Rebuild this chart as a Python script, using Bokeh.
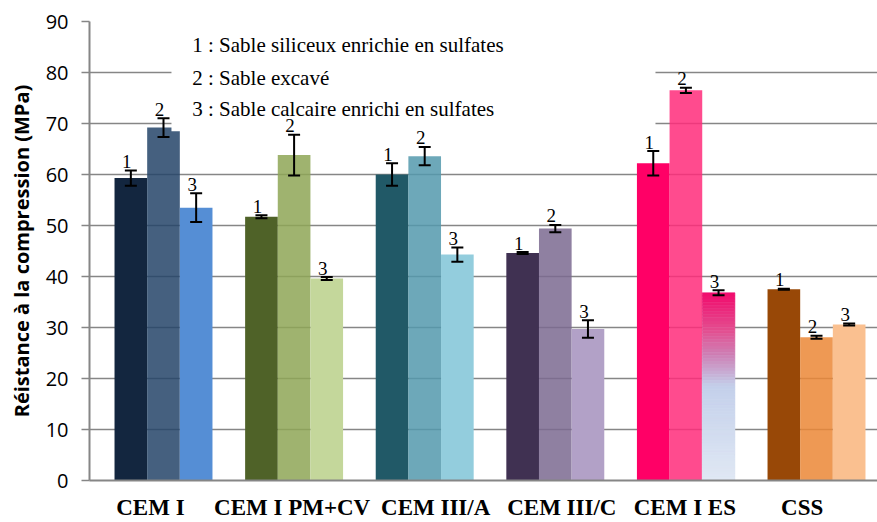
import numpy as np
from bokeh.plotting import figure
from bokeh.models import (ColumnDataSource, Whisker, TeeHead, FixedTicker, Label,
                          Range1d)
from bokeh.core.properties import value
from bokeh.embed import file_html
from bokeh.resources import INLINE

# ---------------- data ----------------
categories = ["CEM I", "CEM I PM+CV", "CEM III/A", "CEM III/C", "CEM I ES", "CSS"]
sand_ids = ["1", "2", "3"]
legend_lines = ["1 : Sable siliceux enrichie en sulfates",
                "2 : Sable excavé",
                "3 : Sable calcaire enrichi en sulfates"]
y_ticks = [0, 10, 20, 30, 40, 50, 60, 70, 80, 90]

values_s1 = [59.3, 51.7, 60.0, 44.6, 62.2, 37.5]
values_s2 = [69.2, 63.8, 63.6, 49.4, 76.5, 28.1]
values_s3 = [53.5, 39.6, 44.3, 29.7, 36.8, 30.6]
err_s1 = [1.5, 0.3, 2.2, 0.2, 2.4, 0.1]
err_s2 = [1.85, 4.0, 1.8, 0.7, 0.5, 0.3]
err_s3 = [2.8, 0.3, 1.4, 1.7, 0.5, 0.2]

# ---------------- styles ----------------
colors_s1 = ["#13263f", "#4f6228", "#215967", "#403152", "#ff0066", "#984807"]
colors_s2 = ["#254468", "#8ea656", "#5399ad", "#7b6a90", "#ff2b7a", "#eb8736"]
colors_s3 = ["#558ed5", "#c4d79b", "#93cddd", "#b2a1c7", "#dce6f2", "#fac090"]
gradient_stops = [(0.0, "#f20a6c"), (0.2, "#e34e90"), (0.35, "#cc88bb"),
                  (0.5, "#c4d0eb"), (1.0, "#e0e8f4")]
cat_label_shift = [-0.10, -0.015, 0.084, 0.05, -0.008, -0.11]  # label nudges (category units)
grid_gray = "#868686"
serif = "Liberation Serif"
sans = "Open Sans"

bar_w = 0.25
offsets = [-0.25, 0.0, 0.25]

p = figure(width=877, height=522,
           x_range=Range1d(-0.5666, 5.467), y_range=Range1d(0, 90),
           output_backend="svg", toolbar_location=None,
           min_border_left=89, min_border_right=0,
           min_border_top=21, min_border_bottom=40)
p.outline_line_color = None
p.background_fill_color = "white"
p.border_fill_color = "white"

idx = np.arange(len(categories))

series = [(values_s1, err_s1, colors_s1, 1.0),
          (values_s2, err_s2, colors_s2, 0.85),
          (values_s3, err_s3, colors_s3, 1.0)]

label_x, label_y, label_t = [], [], []
whisk_sources = []
for s, (vals, errs, cols, alpha) in enumerate(series):
    xs = idx + offsets[s]
    src = ColumnDataSource(dict(x=xs, top=vals, color=cols,
                                upper=[v + e for v, e in zip(vals, errs)],
                                lower=[v - e for v, e in zip(vals, errs)]))
    p.vbar(x="x", top="top", bottom=0, width=bar_w, fill_color="color",
           fill_alpha=alpha, line_color=None, source=src)
    whisk_sources.append(src)
    for i in range(len(categories)):
        label_x.append(xs[i])
        label_y.append(vals[i] + errs[i])
        label_t.append(sand_ids[s])

# gradient fill of the "CEM I ES" / sand 3 bar
def interp_color(f):
    for (f0, c0), (f1, c1) in zip(gradient_stops[:-1], gradient_stops[1:]):
        if f0 <= f <= f1:
            t = (f - f0) / (f1 - f0)
            a = [int(c0[k:k + 2], 16) for k in (1, 3, 5)]
            b = [int(c1[k:k + 2], 16) for k in (1, 3, 5)]
            return "#%02x%02x%02x" % tuple(round(a[j] + (b[j] - a[j]) * t) for j in range(3))
    return gradient_stops[-1][1]

gi = categories.index("CEM I ES")
gv = values_s3[gi]
n = 60
tops = [gv * (1 - k / n) for k in range(n)]
bots = [gv * (1 - (k + 1) / n) for k in range(n)]
gcols = [interp_color((k + 0.5) / n) for k in range(n)]
gx = idx[gi] + offsets[2]
p.quad(left=gx - bar_w / 2, right=gx + bar_w / 2, top=tops, bottom=bots,
       fill_color=gcols, line_color=gcols, line_width=0.6)

# legend box (white, hides grid behind) - drawn before the text
p.quad(left=[0.061], right=[3.767], bottom=[68.5], top=[88.6],
       fill_color="white", fill_alpha=1.0, line_color=None)

# axes & grid
p.yaxis.ticker = FixedTicker(ticks=y_ticks)
p.ygrid.ticker = FixedTicker(ticks=y_ticks)
p.ygrid.grid_line_color = grid_gray
p.ygrid.grid_line_width = 1.6
p.xgrid.grid_line_color = None
p.yaxis.axis_line_color = grid_gray
p.yaxis.axis_line_width = 2
p.yaxis.major_tick_line_color = grid_gray
p.yaxis.major_tick_line_width = 1.6
p.yaxis.major_tick_out = 8
p.yaxis.major_tick_in = 0
p.yaxis.minor_tick_line_color = None
p.yaxis.major_label_text_font = sans
p.yaxis.major_label_text_font_size = "20px"
p.yaxis.major_label_text_color = "black"
p.yaxis.major_label_standoff = 13
p.yaxis.axis_label = "Réistance à la compression (MPa)"
p.yaxis.axis_label_text_font = sans
p.yaxis.axis_label_text_font_style = "bold"
p.yaxis.axis_label_text_font_size = "20px"
p.yaxis.axis_label_text_color = "black"
p.yaxis.axis_label_standoff = 8

cat_ticks = [round(float(i + s), 4) for i, s in zip(idx, cat_label_shift)]
p.xaxis.ticker = FixedTicker(ticks=cat_ticks)
p.xaxis.major_label_overrides = {t: c for t, c in zip(cat_ticks, categories)}
p.xaxis.major_label_text_font = serif
p.xaxis.major_label_text_font_style = "bold"
p.xaxis.major_label_text_font_size = "23px"
p.xaxis.major_label_text_color = "black"
p.xaxis.major_label_standoff = 14
p.xaxis.axis_line_color = grid_gray
p.xaxis.axis_line_width = 2
p.xaxis.major_tick_line_color = None
p.xaxis.major_tick_out = 0
p.xaxis.major_tick_in = 0
p.xaxis.minor_tick_line_color = None

# error bars
for src in whisk_sources:
    w = Whisker(base="x", upper="upper", lower="lower", source=src,
                line_color="black", line_width=2, level="overlay",
                upper_head=TeeHead(size=12, line_color="black", line_width=2),
                lower_head=TeeHead(size=12, line_color="black", line_width=2))
    p.add_layout(w)

# sand number above bars
lsrc = ColumnDataSource(dict(x=label_x, y=label_y, t=label_t))
p.text(x="x", y="y", text="t", source=lsrc, text_font=value(serif),
       text_font_size="19px", text_align="center", text_baseline="middle",
       x_offset=-4, y_offset=-9, text_color="black")

# legend text
legend_y = [85.3, 79.0, 72.9]
for txt, ly in zip(legend_lines, legend_y):
    p.add_layout(Label(x=0.22, y=ly, text=txt, text_font=serif,
                       text_font_size="21px", text_baseline="middle",
                       text_color="black"))

open("out.html", "w").write(file_html(p, INLINE))
